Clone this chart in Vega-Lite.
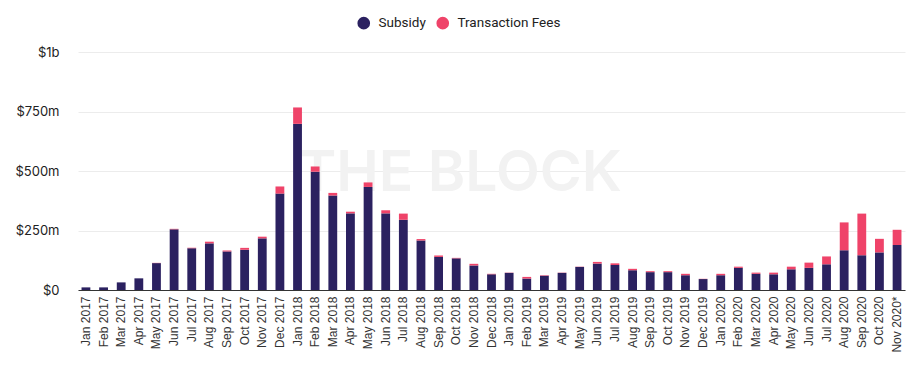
{
  "$schema": "https://vega.github.io/schema/vega-lite/v6.json",
  "width": 827,
  "height": 238,
  "autosize": {"type": "none"},
  "padding": {"left": 78, "top": 52, "right": 15, "bottom": 81},
  "background": "white",
  "config": {"view": {"stroke": null}, "font": "Roboto"},
  "datasets": {
    "rev": [
      {"month": "Jan 2017", "Subsidy": 11, "Transaction Fees": 0},
      {"month": "Feb 2017", "Subsidy": 11, "Transaction Fees": 0},
      {"month": "Mar 2017", "Subsidy": 32, "Transaction Fees": 0},
      {"month": "Apr 2017", "Subsidy": 49, "Transaction Fees": 0},
      {"month": "May 2017", "Subsidy": 113, "Transaction Fees": 1},
      {"month": "Jun 2017", "Subsidy": 255, "Transaction Fees": 2},
      {"month": "Jul 2017", "Subsidy": 175, "Transaction Fees": 2},
      {"month": "Aug 2017", "Subsidy": 196, "Transaction Fees": 7},
      {"month": "Sep 2017", "Subsidy": 162, "Transaction Fees": 4},
      {"month": "Oct 2017", "Subsidy": 169, "Transaction Fees": 8},
      {"month": "Nov 2017", "Subsidy": 217, "Transaction Fees": 7},
      {"month": "Dec 2017", "Subsidy": 405, "Transaction Fees": 30},
      {"month": "Jan 2018", "Subsidy": 698, "Transaction Fees": 69},
      {"month": "Feb 2018", "Subsidy": 497, "Transaction Fees": 22},
      {"month": "Mar 2018", "Subsidy": 397, "Transaction Fees": 11},
      {"month": "Apr 2018", "Subsidy": 322, "Transaction Fees": 7},
      {"month": "May 2018", "Subsidy": 433, "Transaction Fees": 19},
      {"month": "Jun 2018", "Subsidy": 322, "Transaction Fees": 13},
      {"month": "Jul 2018", "Subsidy": 295, "Transaction Fees": 26},
      {"month": "Aug 2018", "Subsidy": 208, "Transaction Fees": 6},
      {"month": "Sep 2018", "Subsidy": 139, "Transaction Fees": 6},
      {"month": "Oct 2018", "Subsidy": 133, "Transaction Fees": 2},
      {"month": "Nov 2018", "Subsidy": 103, "Transaction Fees": 7},
      {"month": "Dec 2018", "Subsidy": 66, "Transaction Fees": 2},
      {"month": "Jan 2019", "Subsidy": 72, "Transaction Fees": 1},
      {"month": "Feb 2019", "Subsidy": 48, "Transaction Fees": 7},
      {"month": "Mar 2019", "Subsidy": 60, "Transaction Fees": 2},
      {"month": "Apr 2019", "Subsidy": 72, "Transaction Fees": 1},
      {"month": "May 2019", "Subsidy": 97, "Transaction Fees": 1},
      {"month": "Jun 2019", "Subsidy": 111, "Transaction Fees": 7},
      {"month": "Jul 2019", "Subsidy": 105, "Transaction Fees": 7},
      {"month": "Aug 2019", "Subsidy": 83, "Transaction Fees": 6},
      {"month": "Sep 2019", "Subsidy": 75, "Transaction Fees": 4},
      {"month": "Oct 2019", "Subsidy": 75, "Transaction Fees": 4},
      {"month": "Nov 2019", "Subsidy": 62, "Transaction Fees": 6},
      {"month": "Dec 2019", "Subsidy": 46, "Transaction Fees": 1},
      {"month": "Jan 2020", "Subsidy": 62, "Transaction Fees": 6},
      {"month": "Feb 2020", "Subsidy": 93, "Transaction Fees": 5},
      {"month": "Mar 2020", "Subsidy": 68, "Transaction Fees": 5},
      {"month": "Apr 2020", "Subsidy": 66, "Transaction Fees": 7},
      {"month": "May 2020", "Subsidy": 87, "Transaction Fees": 11},
      {"month": "Jun 2020", "Subsidy": 93, "Transaction Fees": 22},
      {"month": "Jul 2020", "Subsidy": 108, "Transaction Fees": 33},
      {"month": "Aug 2020", "Subsidy": 167, "Transaction Fees": 117},
      {"month": "Sep 2020", "Subsidy": 146, "Transaction Fees": 175},
      {"month": "Oct 2020", "Subsidy": 158, "Transaction Fees": 57},
      {"month": "Nov 2020*", "Subsidy": 189, "Transaction Fees": 64}
    ]
  },
  "layer": [
    {
      "data": {"values": [{"t": "THE BLOCK", "month": "Oct 2018", "v": 487}]},
      "mark": {"type": "text", "font": "Inter", "fontWeight": 600, "fontSize": 57, "color": "#f2f2f2", "baseline": "middle", "align": "center", "dx": 4},
      "encoding": {
        "x": {"field": "month", "type": "nominal"},
        "y": {"field": "v", "type": "quantitative"},
        "text": {"field": "t"}
      }
    },
    {
      "data": {"name": "rev"},
      "transform": [{"fold": ["Subsidy", "Transaction Fees"], "as": ["type", "value"]}],
      "mark": {"type": "bar"},
      "encoding": {
        "x": {
          "field": "month", "type": "nominal", "sort": null,
          "scale": {
            "domain": ["Jan 2017","Feb 2017","Mar 2017","Apr 2017","May 2017","Jun 2017","Jul 2017","Aug 2017","Sep 2017","Oct 2017","Nov 2017","Dec 2017","Jan 2018","Feb 2018","Mar 2018","Apr 2018","May 2018","Jun 2018","Jul 2018","Aug 2018","Sep 2018","Oct 2018","Nov 2018","Dec 2018","Jan 2019","Feb 2019","Mar 2019","Apr 2019","May 2019","Jun 2019","Jul 2019","Aug 2019","Sep 2019","Oct 2019","Nov 2019","Dec 2019","Jan 2020","Feb 2020","Mar 2020","Apr 2020","May 2020","Jun 2020","Jul 2020","Aug 2020","Sep 2020","Oct 2020","Nov 2020*"],
            "paddingInner": 0.5, "paddingOuter": 0.2
          },
          "axis": {
            "title": null, "labelAngle": -90, "labelFont": "Liberation Sans", "labelFontSize": 12,
            "labelColor": "#333333", "labelPadding": 6, "ticks": false, "grid": false,
            "domainColor": "#333333", "domainWidth": 1, "labelOverlap": false
          }
        },
        "y": {
          "field": "value", "type": "quantitative", "stack": "zero",
          "scale": {"domain": [0, 1000]},
          "axis": {
            "title": null, "values": [0, 250, 500, 750, 1000],
            "labelExpr": "datum.value == 0 ? '$0' : datum.value == 1000 ? '$1b' : '$' + datum.value + 'm'",
            "labelFont": "Inter", "labelFontSize": 13, "labelColor": "#222222",
            "ticks": false, "tickSize": 0, "labelPadding": 19, "domain": false,
            "grid": true, "gridColor": "#ececec", "gridWidth": 1
          }
        },
        "order": {"field": "type", "sort": "ascending"},
        "color": {
          "field": "type", "type": "nominal",
          "scale": {"domain": ["Subsidy", "Transaction Fees"], "range": ["#2b2160", "#ef4369"]},
          "legend": {
            "title": null, "orient": "none", "legendX": 279, "legendY": -36, "direction": "horizontal",
            "symbolType": "circle", "symbolSize": 160, "symbolStrokeWidth": 0,
            "labelFont": "Roboto", "labelFontSize": 13.5, "labelColor": "#222222",
            "labelOffset": 8, "columnPadding": 10
          }
        }
      }
    }
  ]
}
